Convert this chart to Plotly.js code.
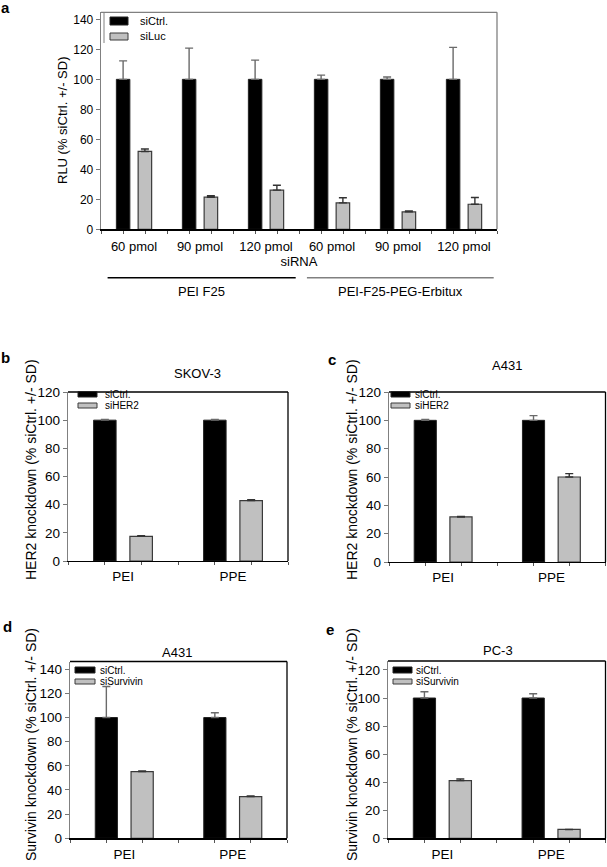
<!DOCTYPE html>
<html><head><meta charset="utf-8">
<script src="https://cdn.plot.ly/plotly-3.0.1.min.js"></script>
<style>html,body{margin:0;padding:0;background:#fff;}#chart{width:607px;height:867px;}</style>
</head><body><div id="chart"></div>
<script>
// ---------- DATA ----------
// Panel a
const aCategories = ['60 pmol', '90 pmol', '120 pmol', '60 pmol', '90 pmol', '120 pmol'];
const aGroups = ['PEI F25', 'PEI-F25-PEG-Erbitux'];
const aXTitle = 'siRNA';
const aYTitle = 'RLU (% siCtrl. +/- SD)';
const aSeriesNames = ['siCtrl.', 'siLuc'];
const aCtrl = [100, 100, 100, 100, 100, 100];
const aCtrlSD = [12.3, 20.8, 12.8, 2.8, 1.6, 21.3];
const aLuc = [51.9, 21.4, 26.1, 17.6, 11.6, 16.7];
const aLucSD = [1.6, 1.0, 3.3, 3.4, 0.7, 4.5];

// Panels b-e
const kdCategories = ['PEI', 'PPE'];
const her2YTitle = 'HER2 knockdown (% siCtrl. +/- SD)';
const survivinYTitle = 'Survivin knockdown (% siCtrl. +/- SD)';

const bTitle = 'SKOV-3';
const bSeriesNames = ['siCtrl.', 'siHER2'];
const bCtrl = [100, 100];
const bCtrlSD = [0.5, 0.5];
const bKd = [17.5, 42.9];
const bKdSD = [0.5, 0.7];

const cTitle = 'A431';
const cSeriesNames = ['siCtrl.', 'siHER2'];
const cCtrl = [100, 100];
const cCtrlSD = [0.6, 3.3];
const cKd = [31.8, 60.0];
const cKdSD = [0.3, 2.4];

const dTitle = 'A431';
const dSeriesNames = ['siCtrl.', 'siSurvivin'];
const dCtrl = [100, 100];
const dCtrlSD = [25.7, 4.0];
const dKd = [55.2, 34.5];
const dKdSD = [0.6, 0.6];

const eTitle = 'PC-3';
const eSeriesNames = ['siCtrl.', 'siSurvivin'];
const eCtrl = [100, 100];
const eCtrlSD = [4.5, 3.0];
const eKd = [41.1, 6.3];
const eKdSD = [1.2, 0.0];

// ---------- LAYOUT HELPERS ----------
const W = 607, H = 867;
const px = v => v / W;
const py = v => 1 - v / H;
const FONT = 'Liberation Sans, Arial, Helvetica, sans-serif';
const BLACK = '#000000', GREY = '#c0c0c0';

const panels = [
  {id: '', letter: 'a', cats: aCategories, names: aSeriesNames, ctrl: aCtrl, ctrlSD: aCtrlSD, kd: aLuc, kdSD: aLucSD,
   ytitle: aYTitle, title: null,
   box: [101, 497, 12.3, 229.3], ymax: 144.7, dtick: 20, tickSize: 12, titleSize: 13, frameColor: '#808080',
   letterPos: [5, 7], ytitle: aYTitle, ytitlePos: [62, 121], titlePos: null,
   legend: {sx: 110, sw: 18, rows: [[17, 25], [33, 40]], tx: 138, size: 11, edge: [104, 12.3, 43]}},
  {id: '2', letter: 'b', cats: kdCategories, names: bSeriesNames, ctrl: bCtrl, ctrlSD: bCtrlSD, kd: bKd, kdSD: bKdSD,
   ytitle: her2YTitle, title: bTitle,
   box: [68, 288, 392, 561], ymax: 120, dtick: 20, tickSize: 13.5, titleSize: 14, frameColor: '#000',
   letterPos: [6, 357], ytitlePos: [31, 470], titlePos: [198, 373],
   legend: {sx: 78, sw: 19, rows: [[391.5, 397], [403, 408]], tx: 103, size: 10}},
  {id: '3', letter: 'c', cats: kdCategories, names: cSeriesNames, ctrl: cCtrl, ctrlSD: cCtrlSD, kd: cKd, kdSD: cKdSD,
   ytitle: her2YTitle, title: cTitle,
   box: [389, 605.5, 392, 562], ymax: 120, dtick: 20, tickSize: 13.5, titleSize: 14, frameColor: '#000',
   letterPos: [332, 359], ytitlePos: [352, 470], titlePos: [507, 365],
   legend: {sx: 391, sw: 19, rows: [[391.5, 397], [403, 408]], tx: 413, size: 10}},
  {id: '4', letter: 'd', cats: kdCategories, names: dSeriesNames, ctrl: dCtrl, ctrlSD: dCtrlSD, kd: dKd, kdSD: dKdSD,
   ytitle: survivinYTitle, title: dTitle,
   box: [70, 287, 661.5, 838.3], ymax: 146.4, dtick: 20, tickSize: 13.5, titleSize: 14, frameColor: '#000',
   letterPos: [7, 626], ytitlePos: [31, 745], titlePos: [177, 652],
   legend: {sx: 75, sw: 20, rows: [[667, 673], [679, 684]], tx: 98, size: 10}},
  {id: '5', letter: 'e', cats: kdCategories, names: eSeriesNames, ctrl: eCtrl, ctrlSD: eCtrlSD, kd: eKd, kdSD: eKdSD,
   ytitle: survivinYTitle, title: eTitle,
   box: [388, 605.5, 661, 838.3], ymax: 126.4, dtick: 20, tickSize: 13.5, titleSize: 14, frameColor: '#000',
   letterPos: [330, 629], ytitlePos: [352, 745], titlePos: [498, 650],
   legend: {sx: 393, sw: 19, rows: [[667, 673], [679, 684]], tx: 414, size: 10}}
];

const traces = [];
const layout = {
  width: W, height: H, margin: {l: 0, r: 0, t: 0, b: 0},
  paper_bgcolor: '#fff', plot_bgcolor: 'rgba(0,0,0,0)',
  font: {family: FONT, color: '#000', size: 12},
  barmode: 'group', bargap: 0.34, bargroupgap: 0.38,
  showlegend: false, shapes: [], annotations: []
};

panels.forEach(p => {
  const xa = 'x' + p.id, ya = 'y' + p.id;
  const xs = p.cats.map((c, i) => i + 1);
  traces.push({
    type: 'bar', name: p.names[0], x: xs, y: p.ctrl, xaxis: xa, yaxis: ya,
    marker: {color: BLACK, line: {color: '#222', width: 1}},
    error_y: {type: 'data', symmetric: false, array: p.ctrlSD, arrayminus: p.ctrlSD.map(() => 0),
              color: '#6a6a6a', thickness: 1.4, width: 4},
    hoverinfo: 'y'
  });
  traces.push({
    type: 'bar', name: p.names[1], x: xs, y: p.kd, xaxis: xa, yaxis: ya,
    marker: {color: GREY, line: {color: '#3a3a3a', width: 1.2}},
    error_y: {type: 'data', symmetric: false, array: p.kdSD, arrayminus: p.kdSD.map(() => 0),
              color: '#333', thickness: 1.4, width: 4},
    hoverinfo: 'y'
  });
  const [l, r, t, b] = p.box;
  layout['xaxis' + p.id] = {
    domain: [px(l), px(r)], anchor: ya, range: [0.5, p.cats.length + 0.5],
    tickmode: 'array', tickvals: xs, ticktext: p.cats,
    ticks: 'outside', ticklen: 0, ticklabelstandoff: p.id === '' ? 5 : 3,
    minor: {tickmode: 'linear', tick0: 0.5, dtick: 1 / 3, ticks: 'outside', ticklen: 3, tickcolor: '#555', tickwidth: 1},
    showline: true, linecolor: '#000', linewidth: 1.2, showgrid: false, zeroline: false,
    tickfont: {size: p.id === '' ? 13 : p.tickSize, family: FONT}, fixedrange: true
  };
  if (p.id === '') {
    layout.xaxis.title = {text: aXTitle, font: {size: 13, family: FONT}, standoff: 2};
  }
  layout['yaxis' + p.id] = {
    domain: [py(b), py(t)], anchor: xa, range: [0, p.ymax],
    tickmode: 'linear', tick0: 0, dtick: p.dtick,
    ticks: 'outside', ticklen: 4, tickcolor: '#777', tickwidth: 1,
    showline: true, linecolor: '#808080', linewidth: 1.3, showgrid: false, zeroline: false,
    tickfont: {size: p.tickSize, family: FONT}, fixedrange: true
  };
  // top & right frame lines
  layout.shapes.push({type: 'line', xref: xa + ' domain', yref: ya + ' domain', x0: 0, x1: 1, y0: 1, y1: 1,
                      line: {color: p.frameColor, width: 1.3}});
  layout.shapes.push({type: 'line', xref: xa + ' domain', yref: ya + ' domain', x0: 1, x1: 1, y0: 0, y1: 1,
                      line: {color: p.frameColor, width: 1.3}});
  // y title
  layout.annotations.push({text: p.ytitle, xref: 'paper', yref: 'paper', x: px(p.ytitlePos[0]), y: py(p.ytitlePos[1]),
                           textangle: -90, showarrow: false, xanchor: 'center', yanchor: 'middle',
                           font: {size: p.titleSize, family: FONT}});
  // panel letter
  layout.annotations.push({text: '<b>' + p.letter + '</b>', xref: 'paper', yref: 'paper',
                           x: px(p.letterPos[0]), y: py(p.letterPos[1]), showarrow: false,
                           xanchor: 'center', yanchor: 'middle', font: {size: 15, family: FONT}});
  if (p.title) {
    layout.annotations.push({text: p.title, xref: 'paper', yref: 'paper', x: px(p.titlePos[0]), y: py(p.titlePos[1]),
                             showarrow: false, xanchor: 'center', yanchor: 'middle', font: {size: 13, family: FONT}});
  }
  // legend (swatches + labels)
  const lg = p.legend;
  const fills = [BLACK, GREY], borders = ['#222', '#3a3a3a'];
  if (lg.edge) {
    layout.shapes.push({type: 'line', xref: 'paper', yref: 'paper', x0: px(lg.edge[0]), x1: px(lg.edge[0]),
                        y0: py(lg.edge[1]), y1: py(lg.edge[2]), line: {color: '#808080', width: 1}});
  }
  p.names.forEach((nm, k) => {
    const [y0, y1] = lg.rows[k];
    layout.shapes.push({type: 'rect', xref: 'paper', yref: 'paper', x0: px(lg.sx), x1: px(lg.sx + lg.sw),
                        y0: py(y1), y1: py(y0), fillcolor: fills[k], line: {color: borders[k], width: 1}});
    layout.annotations.push({text: nm, xref: 'paper', yref: 'paper', x: px(lg.tx), y: py((y0 + y1) / 2),
                             showarrow: false, xanchor: 'left', yanchor: 'middle', font: {size: lg.size, family: FONT}});
  });
});

// Group brackets under panel a
const groupSpans = [[0.6, 3.45], [3.62, 6.45]];
const groupColors = ['#000', '#808080'];
aGroups.forEach((g, i) => {
  layout.shapes.push({type: 'line', xref: 'x', yref: 'paper', x0: groupSpans[i][0], x1: groupSpans[i][1],
                      y0: py(277.7), y1: py(277.7), line: {color: groupColors[i], width: 1.5}});
  layout.annotations.push({text: g, xref: 'x', yref: 'paper', x: (groupSpans[i][0] + groupSpans[i][1]) / 2,
                           y: py(291.7), showarrow: false, xanchor: 'center', yanchor: 'middle',
                           font: {size: 13, family: FONT}});
});

Plotly.newPlot('chart', traces, layout, {staticPlot: true, displayModeBar: false});
</script>
</body></html>
